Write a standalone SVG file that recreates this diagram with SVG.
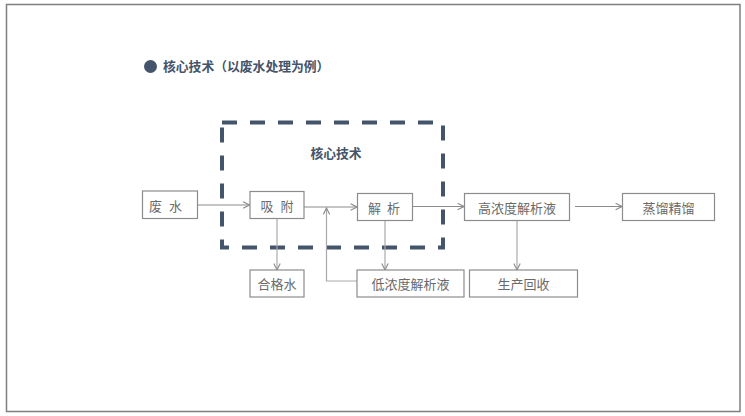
<svg xmlns="http://www.w3.org/2000/svg" width="745" height="416" viewBox="0 0 745 416">
<defs>
<style>
.frame{fill:#fff;stroke:#7f7f7f;stroke-width:1.5}
.box{fill:#fff;stroke:#8c8c8c;stroke-width:1.2}
.lbl{font-family:"Noto Sans CJK SC","Liberation Sans",sans-serif;font-size:13px;fill:#6a6a6a;text-anchor:middle;dominant-baseline:central}
.ttl{font-family:"Noto Sans CJK SC","Liberation Sans",sans-serif;font-size:12.8px;font-weight:bold;fill:#44546a}
.ln{fill:none;stroke:#8c8c8c;stroke-width:1.2}
.ln2{fill:none;stroke:#aaa;stroke-width:1.2}
</style>
<marker id="ah" viewBox="0 0 10 10" refX="9" refY="5" markerWidth="8" markerHeight="8" markerUnits="userSpaceOnUse" orient="auto">
<path d="M1,1 L9,5 L1,9" fill="none" stroke="#8c8c8c" stroke-width="1.4"/>
</marker>
</defs>
<rect class="frame" x="6.5" y="4.5" width="733.5" height="407"/>
<g id="title">
<circle cx="150.5" cy="66.5" r="6.5" fill="#44546a"/>
<text class="ttl" x="163" y="71">核心技术（以废水处理为例）</text>
</g>
<g id="core">
<rect x="222" y="122.5" width="221" height="125" fill="none" stroke="#44546a" stroke-width="4" stroke-dasharray="15 13"/>
<text class="ttl" x="336" y="152" text-anchor="middle" dominant-baseline="central">核心技术</text>
</g>
<g id="connectors">
<path class="ln" d="M197.5,205 H249.5" marker-end="url(#ah)"/>
<path class="ln" d="M304,207 H357" marker-end="url(#ah)"/>
<path class="ln" d="M413,206.5 H464" marker-end="url(#ah)"/>
<path class="ln" d="M575,206.5 H622" marker-end="url(#ah)"/>
<path class="ln2" d="M277,218.5 V270" marker-end="url(#ah)"/>
<path class="ln2" d="M385,220 V270" marker-end="url(#ah)"/>
<path class="ln2" d="M517,220 V270" marker-end="url(#ah)"/>
<path class="ln2" d="M357,281 H326.5 V208" marker-end="url(#ah)"/>
</g>
<g id="n-feishui"><rect class="box" x="142.5" y="191" width="55" height="27.5"/><text class="lbl" x="165.5" y="205">废<tspan dx="7">水</tspan></text></g>
<g id="n-xifu"><rect class="box" x="250" y="191.5" width="54" height="27"/><text class="lbl" x="277" y="205">吸<tspan dx="7">附</tspan></text></g>
<g id="n-jiexi"><rect class="box" x="357.5" y="193.5" width="55" height="27"/><text class="lbl" x="384" y="207">解<tspan dx="6">析</tspan></text></g>
<g id="n-gaonongdu"><rect class="box" x="464.5" y="193.5" width="105" height="27"/><text class="lbl" x="517" y="207">高浓度解析液</text></g>
<g id="n-zhengliu"><rect class="box" x="622.5" y="193.5" width="92" height="27"/><text class="lbl" x="668.5" y="207">蒸馏精馏</text></g>
<g id="n-hegeshui"><rect class="box" x="250" y="270" width="54" height="27"/><text class="lbl" x="277" y="283.5">合格水</text></g>
<g id="n-dinongdu"><rect class="box" x="357" y="270" width="107" height="27"/><text class="lbl" x="410.5" y="283.5">低浓度解析液</text></g>
<g id="n-shengchan"><rect class="box" x="469.5" y="270" width="108" height="27"/><text class="lbl" x="523.5" y="283.5">生产回收</text></g>
</svg>
